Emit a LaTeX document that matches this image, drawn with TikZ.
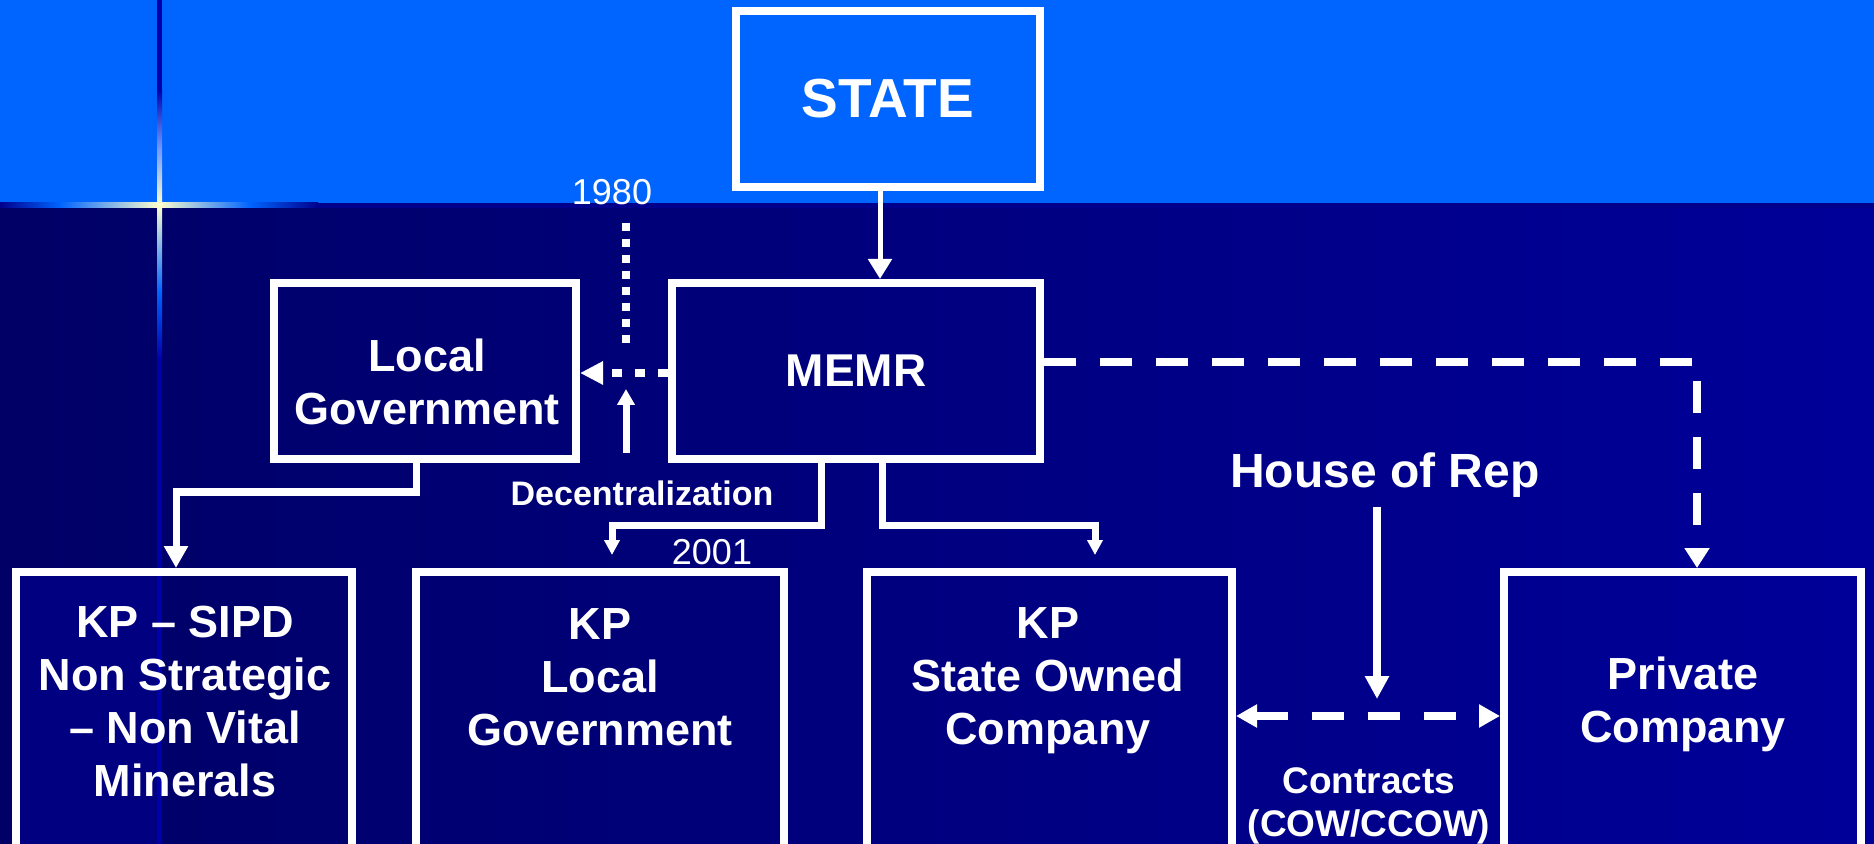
\documentclass[tikz,border=0pt]{standalone}
\usepackage{fontspec}
\setmainfont{Liberation Sans}
\usetikzlibrary{arrows.meta,calc}
\definecolor{bandblue}{RGB}{0,100,255}
\definecolor{navyL}{RGB}{0,0,102}
\definecolor{navyR}{RGB}{0,0,153}
\definecolor{sepblue}{RGB}{0,0,140}
\definecolor{glowc}{RGB}{255,255,205}
\definecolor{linedark}{RGB}{0,0,170}
\definecolor{midblue}{RGB}{110,150,255}
\definecolor{boxleft}{RGB}{0,0,128}
\begin{document}
\begin{tikzpicture}[x=0.5pt,y=-0.5pt,
  box/.style={draw=white,line width=4pt,inner sep=0pt,rectangle},
  lbl/.style={text=white,inner sep=0pt,align=center},
  boxtext/.style={lbl,font=\bfseries\fontsize{22.5}{26.5}\selectfont},
  conn/.style={draw=white,line width=3.5pt},
  tipbig/.style={-{Triangle[width=11.5pt,length=11pt]}},
  tipsmall/.style={-{Triangle[width=7.5pt,length=7.5pt]}},
  dashedconn/.style={draw=white,line width=3.75pt,dash pattern=on 16pt off 12pt},
  dotconn/.style={draw=white,line width=4.2pt,dash pattern=on 5pt off 6.5pt},
  dotvert/.style={draw=white,line width=4.2pt,dash pattern=on 4pt off 4pt}
]
\useasboundingbox (0,0) rectangle (1874,844);
\clip (0,0) rectangle (1874,844);
% background
\fill[bandblue] (0,0) rectangle (1874,205);
\shade[left color=navyL,right color=navyR] (0,205) rectangle (1874,844);
\fill[boxleft] (16,572) rectangle (159,844);
\fill[sepblue] (0,203) rectangle (1874,208);
\shade[left color=sepblue,right color=bandblue] (0,203) rectangle (60,208);
\shade[left color=bandblue,right color=glowc] (60,203) rectangle (159,208);
\shade[left color=glowc,right color=bandblue] (159,203) rectangle (250,208);
\shade[left color=bandblue,right color=sepblue] (250,203) rectangle (318,208);
\fill[linedark] (157,0) rectangle (162,90);
\shade[top color=linedark,bottom color=glowc,middle color=midblue] (157,90) rectangle (162,205);
\shade[top color=glowc,bottom color=bandblue] (157,205) rectangle (162,292);
\shade[top color=bandblue,bottom color=linedark] (157,292) rectangle (162,360);
\fill[linedark] (157,360) rectangle (162,844);

% boxes
\node[box,minimum width=152pt,minimum height=88pt,font=\bfseries\fontsize{27.5}{31}\selectfont,text=white] (state) at (888,99) {STATE};
\node[box,minimum width=184pt,minimum height=88pt,font=\bfseries\fontsize{23}{26}\selectfont,text=white] (memr) at (856,371) {MEMR};
\node[box,minimum width=151pt,minimum height=88pt] (localgov) at (425,371) {};
\node[box,minimum width=168pt,minimum height=149pt] (kpsipd) at (184,721) {};
\node[box,minimum width=184pt,minimum height=149pt] (kplocal) at (600,721) {};
\node[box,minimum width=182.5pt,minimum height=149pt] (kpstate) at (1049.5,721) {};
\node[box,minimum width=178.5pt,minimum height=149pt] (private) at (1682.5,721) {};

% box texts
\node[boxtext] (localgovtxt) at (427,382) {Local\\Government};
\node[boxtext] (kpsipdtxt) at (185,702) {KP -- SIPD\\Non Strategic\\-- Non Vital\\Minerals};
\node[boxtext] (kplocaltxt) at (600,677) {KP\\Local\\Government};
\node[boxtext] (kpstatetxt) at (1048,681) {KP\\State Owned\\Company};
\node[boxtext] (privatetxt) at (1683,704) {Private\\Company};

% labels
\node[lbl,font=\fontsize{18}{20}\selectfont] (y1980) at (612,192) {1980};
\node[lbl,font=\fontsize{18}{20}\selectfont] (y2001) at (712,552) {2001};
\node[lbl,font=\bfseries\fontsize{17}{20}\selectfont] (decent) at (642,493) {Decentralization};
\node[lbl,font=\bfseries\fontsize{24}{28}\selectfont] (hor) at (1385,475) {House of Rep};
\node[lbl,font=\bfseries\fontsize{18.5}{21.5}\selectfont] (contracts) at (1369,806) {Contracts\\(COW/CCOW)};

\coordinate (d80end) at (626,343);
\coordinate (upstart) at (626,453);
\coordinate (upend) at (626,389);
\coordinate (hortip) at (1377,699);

% connectors
\draw[draw=white,line width=2.5pt,-{Triangle[width=11.5pt,length=10pt]}] ($(state.south)+(-8,0)$) -- ($(memr.north)+(24,0)$);
\draw[dotconn,-{Triangle[width=11pt,length=11.5pt]}] ($(memr.west)+(0,2)$) -- ($(localgov.east)+(0,2)$);
\draw[dotvert,shorten <=9pt] (y1980.south -| d80end) -- (d80end);
\draw[conn,-{Triangle[width=8.5pt,length=8pt]}] (upstart) -- (upend);
\draw[conn,tipsmall] ($(memr.south)+(-35,0)$) -- ++(0,62) -| ($(kplocal.north)+(12,-13)$);
\draw[conn,tipsmall] ($(memr.south)+(26,0)$) -- ++(0,62) -| ($(kpstate.north)+(45.5,-13)$);
\draw[conn,tipbig] ($(localgov.south)+(-9,0)$) -- ++(0,29) -| ($(kpsipd.north)+(-8,0)$);
\draw[dashedconn,-{Triangle[width=12pt,length=10pt]}] ($(memr.east)+(0,-9)$) -| ($(private.north)+(14.5,0)$);
\draw[conn,line width=3.75pt,-{Triangle[width=11.5pt,length=11.5pt]}] ($(hor.south)+(-8,9)$) -- (hortip);
\draw[dashedconn,{Triangle[width=11pt,length=10.5pt]}-{Triangle[width=11pt,length=10.5pt]}] ($(kpstate.east)+(0,-5)$) -- ($(private.west)+(0,-5)$);
\end{tikzpicture}
\end{document}
